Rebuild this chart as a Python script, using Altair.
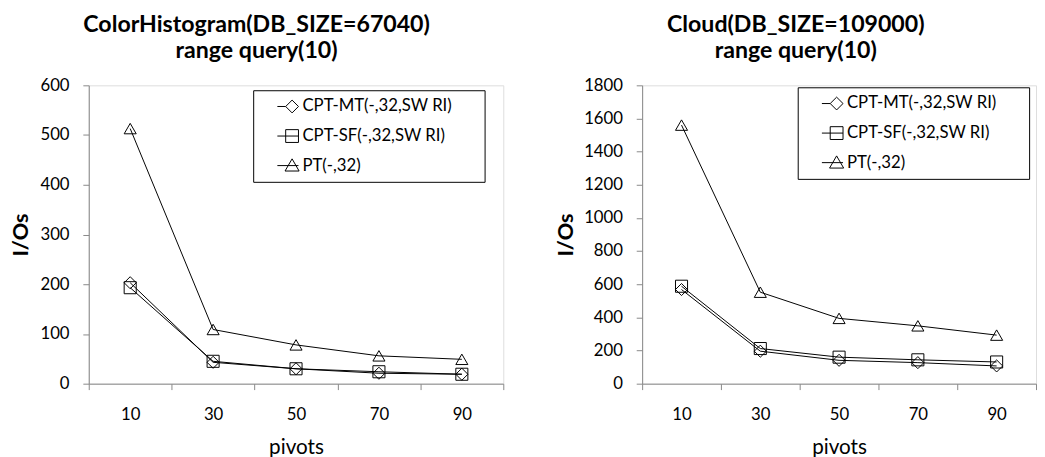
import altair as alt
import pandas as pd

pivots = ["10", "30", "50", "70", "90"]
series = ["CPT-MT(-,32,SW RI)", "CPT-SF(-,32,SW RI)", "PT(-,32)"]

ch_mt = [203, 43, 30, 21, 19]
ch_sf = [193, 45, 30, 24, 19]
ch_pt = [513, 109, 78, 56, 49]

cl_mt = [568, 196, 141, 127, 107]
cl_sf = [588, 212, 160, 144, 131]
cl_pt = [1560, 552, 394, 349, 293]

ch_title = ["ColorHistogram(DB_SIZE=67040)", "range query(10)"]
cl_title = ["Cloud(DB_SIZE=109000)", "range query(10)"]
ch_ticks = [0, 100, 200, 300, 400, 500, 600]
cl_ticks = [0, 200, 400, 600, 800, 1000, 1200, 1400, 1600, 1800]

FONT = "Lato"
GRAY = "#868686"

plot_shapes = ["diamond", "square", "triangle-up"]
legend_shapes = [
    "M-2.3,0H-1M-1,0L0,-1L1,0L0,1Z",
    "M-2.3,0H1M-1,-1H1V1H-1Z",
    "M-2.3,0H1M0,-1.05L1.1,0.85H-1.1Z",
]


def frame(values_by_series):
    rows = []
    for s, vals in zip(series, values_by_series):
        for p, v in zip(pivots, vals):
            rows.append({"pivot": p, "series": s, "ios": v})
    return pd.DataFrame(rows)


def panel(df, title, ticks, width, label_pad, title_pad, lx, ly):
    x = alt.X(
        "pivot:O",
        sort=pivots,
        bandPosition=0.5,
        scale=alt.Scale(type="band", paddingInner=0, paddingOuter=0),
        axis=alt.Axis(
            title="pivots",
            grid=False,
            labelAngle=0,
            tickBand="extent",
            tickSize=6,
            labelPadding=17,
            labelFont=FONT,
            labelFontSize=17,
            labelColor="black",
            titleFont=FONT,
            titleFontSize=21,
            titleFontWeight="normal",
            titlePadding=15,
        ),
    )
    y = alt.Y(
        "ios:Q",
        scale=alt.Scale(domain=[ticks[0], ticks[-1]], nice=False),
        axis=alt.Axis(
            title="I/Os",
            grid=False,
            values=ticks,
            format="d",
            tickSize=6,
            labelPadding=label_pad,
            labelFont=FONT,
            labelFontSize=17,
            labelColor="black",
            titleFont=FONT,
            titleFontSize=22,
            titleFontWeight="bold",
            titlePadding=title_pad,
        ),
    )
    base = alt.Chart(df)
    lines = base.mark_line(color="black", strokeWidth=1).encode(
        x=x, y=y, detail="series:N"
    )
    pts = base.mark_point(
        filled=False, color="black", strokeWidth=1, size=150, opacity=1
    ).encode(
        x=x,
        y=y,
        shape=alt.Shape(
            "series:N",
            scale=alt.Scale(domain=series, range=plot_shapes),
            legend=None,
        ),
    )
    leg = (
        base.mark_point(filled=False, color="black", strokeWidth=1, size=169, opacity=1)
        .encode(
            x=x,
            y=y,
            shape=alt.Shape(
                "series:N",
                scale=alt.Scale(domain=series, range=legend_shapes),
                legend=alt.Legend(
                    title=".",
                    titleOrient="right",
                    titleColor="white",
                    titleFontSize=17,
                    titlePadding=20,
                    orient="none",
                    legendX=lx,
                    legendY=ly,
                    labelFont=FONT,
                    labelFontSize=17,
                    labelColor="black",
                    labelLimit=400,
                    symbolSize=169,
                    symbolStrokeWidth=1,
                    symbolStrokeColor="black",
                    symbolOffset=23,
                    labelOffset=2,
                    padding=8,
                    rowPadding=12,
                    strokeColor="black",
                    fillColor="white",
                    cornerRadius=0,
                ),
            ),
        )
        .transform_filter("false")
    )
    return (
        alt.layer(lines, pts, leg)
        .resolve_scale(shape="independent")
        .properties(
            width=width,
            height=303,
            title=alt.Title(
                text=title,
                fontSize=23.5,
                fontWeight="bold",
                font=FONT,
                color="black",
                anchor="middle",
                frame="bounds",
                lineHeight=27,
                offset=14,
            ),
        )
    )


left = panel(frame([ch_mt, ch_sf, ch_pt]), ch_title, ch_ticks, 421, 14, 8, 167, 5)
right = panel(frame([cl_mt, cl_sf, cl_pt]), cl_title, cl_ticks, 400, 14, 6, 158, 2)

chart = (
    alt.hconcat(left, right, spacing=51)
    .configure_view(stroke=GRAY, strokeWidth=1)
    .configure_axis(domainColor=GRAY, tickColor=GRAY, grid=False)
    .configure(background="white", padding={"left": 0, "top": 1, "right": 0, "bottom": 0})
)

chart.save("out.html", embed_options={"renderer": "svg", "actions": False})
